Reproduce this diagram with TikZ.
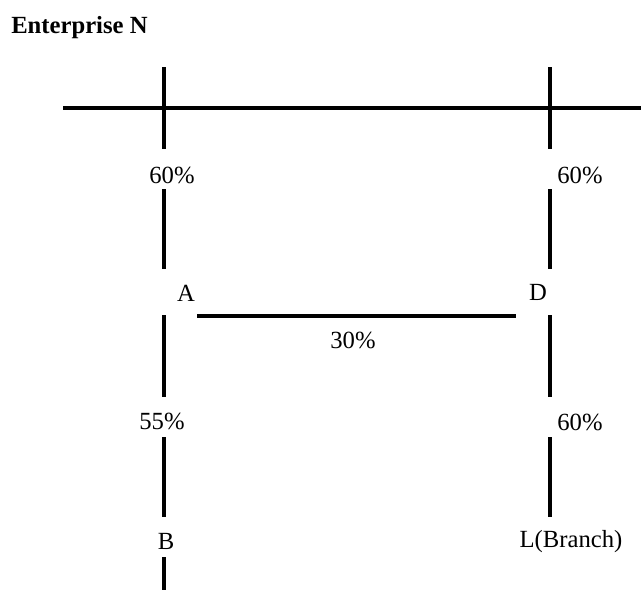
\documentclass[tikz,border=0pt]{standalone}
\usepackage{fontspec}
\setmainfont{Liberation Serif}
\begin{document}
\begin{tikzpicture}[x=0.75pt,y=-0.75pt,
  seg/.style={line width=2.3pt},
  lbl/.style={inner sep=0pt,font=\fontsize{18.5pt}{20pt}\selectfont},
  ttl/.style={inner sep=0pt,anchor=west,font=\fontsize{18.5pt}{20pt}\selectfont\bfseries}]
\useasboundingbox (0,0) rectangle (641,590);
% title
\node[ttl] (title) at (11,28) {Enterprise N};
% labels
\node[lbl] (pAtop) at (172,175) {60\%};
\node[lbl] (pDtop) at (580,175) {60\%};
\node[lbl] (A) at (186,293) {A};
\node[lbl] (D) at (538,292) {D};
\node[lbl] (pAD) at (353,340) {30\%};
\node[lbl] (pAB) at (162,421) {55\%};
\node[lbl] (pDL) at (580,422) {60\%};
\node[lbl] (B) at (166,541) {B};
\node[lbl] (L) at (571,542) {L(Branch)};
% coordinates
\coordinate (h1) at (63,108);
\coordinate (h2) at (641,108);
\foreach \n/\y in {a/67,b/149,c/189,d/269,e/315,f/397,g/437,h/517,i/557,j/590}{
  \coordinate (l\n) at (164,\y);
  \coordinate (r\n) at (550,\y);
}
\coordinate (ad1) at (197,316);
\coordinate (ad2) at (516,316);
% lines
\draw[seg] (h1) -- (h2);
\draw[seg] (la) -- (lb);
\draw[seg] (lc) -- (ld);
\draw[seg] (le) -- (lf);
\draw[seg] (lg) -- (lh);
\draw[seg] (li) -- (lj);
\draw[seg] (ra) -- (rb);
\draw[seg] (rc) -- (rd);
\draw[seg] (re) -- (rf);
\draw[seg] (rg) -- (rh);
\draw[seg] (ad1) -- (ad2);
\end{tikzpicture}
\end{document}
